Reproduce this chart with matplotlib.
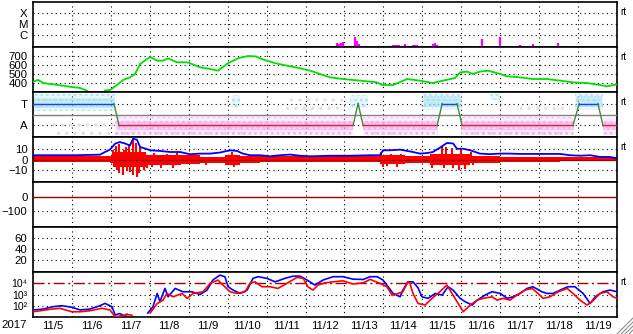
import numpy as np
import matplotlib
matplotlib.use("Agg")
import matplotlib.pyplot as plt

plt.rcParams['font.family'] = ['Liberation Sans', 'DejaVu Sans']
plt.rcParams['hatch.linewidth'] = 1.2

# ---------------- data (time in days since 2017-11-05 00:00 UT) ----------------
day_labels = ['11/5', '11/6', '11/7', '11/8', '11/9', '11/10', '11/11', '11/12',
              '11/13', '11/14', '11/15', '11/16', '11/17', '11/18', '11/19']
year_label = '2017'
flux_labels = ['10\u2074', '10\u00b3', '10\u00b2']

# X-ray flux events (W/m^2)
xray_t = [7.81, 7.86, 7.91, 7.96, 8.26, 8.32, 8.37, 8.68, 8.81, 9.25, 9.30, 9.35,
          9.40, 9.56, 9.76, 9.81, 9.86, 10.27, 10.33, 10.38, 11.30, 11.53, 11.79,
          12.00, 12.51, 12.84, 13.25, 13.49, 13.77]
xray_flux = [1.8e-7, 1.5e-7, 1.8e-7, 2.5e-7, 6.6e-7, 3.1e-7, 1.5e-7, 1.0e-7, 1.0e-7,
             1.2e-7, 1.2e-7, 1.2e-7, 1.2e-7, 1.5e-7, 1.2e-7, 1.2e-7, 1.2e-7, 1.5e-7,
             1.8e-7, 1.2e-7, 1.0e-7, 3.9e-7, 1.0e-7, 6.6e-7, 1.2e-7, 1.5e-7, 1.0e-7,
             1.8e-7, 1.0e-7]

# Solar wind speed (km/s)
vsw_t = [0, 0.13, 0.26, 0.64, 1.00, 1.21, 1.39, 1.40, 1.84, 1.85, 1.98, 2.16, 2.31,
         2.49, 2.62, 2.75, 2.93, 3.01, 3.19, 3.34, 3.47, 3.70, 3.96, 4.08, 4.29,
         4.55, 4.75, 5.01, 5.27, 5.52, 5.73, 5.88, 6.22, 6.55, 6.86, 7.12, 7.37,
         7.63, 7.96, 8.40, 8.84, 8.96, 9.25, 9.61, 9.94, 10.27, 10.53, 10.84, 10.97,
         11.15, 11.30, 11.48, 11.69, 12.00, 12.18, 12.51, 12.84, 13.20, 13.54,
         13.87, 14.23, 14.56, 14.74, 15.00]
vsw = [412, 435, 400, 378, 355, 345, 314, np.nan, np.nan, 318, 322, 378, 433,
       463, 500, 611, 667, 689, 648, 648, 674, 630, 630, 611, 574,
       556, 537, 620, 675, 700, 695, 665, 620, 590, 563, 537, 500,
       463, 444, 426, 407, 378, 378, 444, 426, 400, 426, 455, 518,
       526, 500, 526, 537, 500, 474, 463, 444, 444, 426,
       407, 400, 378, 363, 385]

# IMF sector (T = +1, A = -1)
sector_t = [0, 2.08, 2.21, 8.22, 8.35, 8.48, 10.38, 10.51, 10.89, 11.02,
            13.87, 14.03, 14.51, 14.64, 15.0]
sector = [1, 1, -1, -1, 1, -1, -1, 1, 1, -1, -1, 1, 1, -1, -1]

# scattered sector-angle points: (start, end, low, high)
toward_core = [(0.0, 2.10, 0.6, 1.5), (10.05, 11.0, 0.7, 1.7), (13.95, 14.62, 0.7, 1.7)]
toward_pts = [(0.0, 2.10, 0.3, 1.85), (5.11, 5.32, 0.6, 1.8), (8.14, 8.61, 0.6, 1.8),
              (10.02, 11.02, 0.4, 1.9), (11.74, 12.00, 1.3, 1.9), (13.92, 14.64, 0.4, 1.9)]
away_core = [(2.15, 8.22, -1.4, -0.6), (8.48, 10.40, -1.4, -0.6),
             (11.0, 13.90, -1.4, -0.6), (14.64, 15.0, -1.4, -0.7)]
away_pts = [(2.10, 8.22, -1.9, -0.25), (8.48, 10.40, -1.9, -0.25),
            (11.0, 13.90, -1.9, -0.25), (14.64, 15.0, -1.9, -0.3)]
other_pts = [(0.5, 2.6, -2.0, -0.5), (3.0, 5.5, -2.0, -0.6), (6.5, 8.0, 0.3, 1.9),
             (8.7, 9.6, -2.0, -1.0), (11.3, 13.6, -2.0, -1.0), (12.5, 13.8, 0.2, 1.2)]

# IMF |B| (nT)
bt_t = [0, 1.08, 1.72, 1.85, 1.98, 2.11, 2.23, 2.36, 2.49, 2.57, 2.67, 2.75, 2.88,
        3.01, 3.26, 3.52, 3.78, 4.03, 4.29, 4.55, 4.80, 5.06, 5.24, 5.39, 5.57,
        5.83, 6.09, 6.34, 6.60, 6.86, 7.12, 7.63, 8.14, 8.66, 8.91, 8.99, 9.17,
        9.43, 9.61, 9.76, 9.94, 10.12, 10.27, 10.45, 10.63, 10.79, 10.89, 11.05,
        11.23, 11.48, 11.74, 12.00, 12.25, 12.51, 13.54, 13.79, 14.05, 14.31,
        14.56, 14.82, 15.00]
bt = [4, 4, 4.5, 7, 9.3, 14.8, 16.3, 15, 13, 19.4, 18.5, 11.7, 10.2,
      8.6, 8, 7, 7, 4.9, 5.5, 5.5, 6.5, 8.6, 8, 5.5, 4,
      4, 3, 4, 4.6, 3.5, 3, 3.5, 3.5, 4, 4, 8.6, 8.6,
      9.2, 8, 7, 5.5, 6, 7, 11, 15.4, 15, 10, 10,
      8.6, 5.5, 5, 5.5, 5.5, 5.2, 5.2, 4, 3.5, 4,
      2.4, 2.4, 1]

# IMF Bz: dense core range (nT) within intervals
bz_edges = [0, 1.98, 2.05, 2.90, 3.80, 4.29, 4.93, 5.32, 5.83, 8.91, 9.56, 10.20,
            11.23, 12.00, 13.54, 15.00]
bz_hi = [3.5, 3, 7, 4, 4, 2, 4, 3, 3, 4, 3, 5, 3, 2.5, 2.5]
bz_lo = [-2, -3, -7, -5, -4, -3, -5, -3, -2, -4, -3, -5, -3.5, -2.5, -1.5]
# IMF Bz: individual excursions (time, nT)
bz_spike_t = [2.06, 2.08, 2.13, 2.15, 2.20, 2.22, 2.30, 2.33, 2.38, 2.41, 2.47, 2.50,
              2.56, 2.58, 2.64, 2.66, 2.72, 2.74, 2.82, 2.84, 2.92, 3.05, 3.10, 3.30,
              3.45, 3.60, 3.70, 4.45, 5.10, 5.15, 8.95, 9.00, 9.10, 9.20, 9.35, 9.45,
              10.25, 10.35, 10.50, 10.55, 10.60, 10.75, 10.80, 10.95, 11.00, 11.10,
              11.25, 11.30]
bz_spike = [8.6, -6.8, 13, -10, 14.8, -13, -14.5, 9, 11.7, -11, 14.8, -11.5,
            17.9, -14.5, 15, -16, -13, 12, 7, -10, -8, -7, 6, -8,
            5.5, -8, 7, -5.3, 7, -7, 7, -7, -6, 5, -7, 5.5,
            -8.3, 5.5, 13, -8, 12, 11, -8, -10, 10, -9,
            7, -5]

# >2 MeV electron flux (log10), two satellites
eb_t = [0, 0.26, 0.51, 0.74, 1.00, 1.21, 1.46, 1.72, 1.85, 2.03, 2.11, 2.23, 2.34,
        2.41, 2.49, 2.94, 2.95, 3.08, 3.19, 3.26, 3.39, 3.47, 3.65, 3.85, 4.08,
        4.29, 4.47, 4.62, 4.80, 4.93, 5.01, 5.14, 5.32, 5.50, 5.65, 5.78, 6.01,
        6.22, 6.47, 6.68, 6.86, 7.04, 7.24, 7.45, 7.71, 7.96, 8.22, 8.48, 8.66,
        8.84, 8.99, 9.12, 9.25, 9.43, 9.50, 9.63, 9.76, 9.89, 9.99, 10.15, 10.33,
        10.51, 10.66, 10.79, 10.97, 11.10, 11.28, 11.41, 11.61, 11.79, 12.00,
        12.18, 12.33, 12.51, 12.69, 12.84, 13.07, 13.20, 13.36, 13.54, 13.74,
        13.92, 14.13, 14.31, 14.44, 14.64, 14.82, 15.00]
eb_log = [1.62, 1.70, 1.91, 2.0, 1.86, 1.62, 1.70, 2.0, 2.21, 1.91, 1.17, 1.3, 1.1,
          1.25, np.nan, np.nan, 1.35, 1.9, 3.1, 2.36, 3.55, 2.8, 3.55, 3.25, 3.25,
          3.0, 3.4, 4.3, 4.74, 4.6, 3.7, 3.4, 3.1, 3.4, 4.45, 4.6, 4.45,
          4.14, 4.45, 4.65, 4.65, 4.3, 3.85, 4.3, 4.6, 4.6, 4.38, 4.35, 4.6,
          4.6, 4.3, 3.7, 3.1, 2.8, 3.4, 4.14, 4.14, 3.6, 2.8, 2.66, 3.1,
          2.95, 3.7, 3.4, 2.66, 2.36, 2.06, 2.5, 2.95, 3.25, 3.1,
          2.66, 2.8, 3.1, 3.55, 3.7, 3.25, 3.1, 3.1, 3.4, 3.7,
          3.7, 3.1, 2.2, 2.8, 3.25, 3.4, 3.25]
er_t = [0, 0.44, 0.69, 1.00, 1.21, 1.46, 1.77, 1.98, 2.11, 2.44, 2.54, 2.55, 3.00,
        3.01, 3.19, 3.34, 3.44, 3.60, 3.83, 3.96, 4.11, 4.37, 4.55, 4.75, 4.88,
        5.06, 5.24, 5.45, 5.57, 5.70, 5.88, 6.09, 6.29, 6.52, 6.78, 6.94, 7.06,
        7.19, 7.32, 7.50, 7.71, 7.96, 8.22, 8.48, 8.66, 8.91, 9.09, 9.22, 9.38,
        9.50, 9.63, 9.68, 9.76, 9.89, 10.07, 10.25, 10.45, 10.63, 10.71, 10.84,
        10.97, 11.05, 11.23, 11.41, 11.56, 11.79, 11.92, 12.07, 12.25, 12.43,
        12.64, 12.82, 12.97, 13.10, 13.28, 13.49, 13.72, 13.87, 14.05, 14.23,
        14.36, 14.56, 14.74, 14.90, 15.00]
er_log = [1.46, 1.68, 1.77, 1.46, 1.46, 1.55, 1.77, 1.62, 1.0, 1.2, 1.15, np.nan,
          np.nan, 1.35, 2.2, 2.5, 3.1, 2.8, 3.1, 2.66, 3.1, 3.25, 4.0, 4.3, 3.85,
          3.25, 3.1, 3.25, 4.0, 4.14, 3.7, 3.7, 3.55, 4.0, 4.54, 4.45, 3.7,
          3.4, 3.85, 4.05, 4.14, 4.23, 3.94, 4.05, 4.36, 4.0, 3.7, 2.95, 3.1,
          3.25, 4.14, 4.0, 3.1, 2.2, 2.06, 2.66, 3.25, 3.85, 3.4, 2.66,
          1.91, 1.46, 2.06, 2.5, 2.66, 2.8, 2.5, 2.66, 2.5, 2.95,
          3.4, 3.55, 3.1, 2.66, 2.8, 3.25, 3.55, 3.1, 2.5, 2.06,
          2.36, 3.1, 3.25, 2.8, 2.66]

# ---------------- styling ----------------
W, H = 633, 334
fig = plt.figure(figsize=(W / 100, H / 100), dpi=100)
fig.patch.set_facecolor('white')
tops = [2, 47, 92, 137, 182, 227, 272, 317]
LEFT, RIGHT = 33, 617
FS = 8.2
DOT = (0, (1, 3))
DARKRED = '#a00000'


def make_ax(i):
    t, b = tops[i], tops[i + 1]
    ax = fig.add_axes([LEFT / W, 1 - b / H, (RIGHT - LEFT) / W, (b - t) / H])
    ax.set_xlim(0, 15)
    for s in ax.spines.values():
        s.set_linewidth(1.2)
        s.set_color('black')
    ax.tick_params(axis='both', length=0, labelsize=FS, pad=4)
    ax.set_xticks([])
    for d in range(1, 15):
        ax.axvline(d, color='black', lw=0.8, ls=DOT, zorder=1)
    return ax


def hgrid(ax, levels):
    for v in levels:
        ax.axhline(v, color='black', lw=0.8, ls=DOT, zorder=1)


def rt(ax_i):
    fig.text(620 / W, 1 - (tops[ax_i] + 10) / H, 'rt', fontsize=7, ha='left',
             va='center')


def band(ax, segs, color, hatch, fill_alpha):
    for s, e, lo, hi in segs:
        if fill_alpha > 0:
            ax.fill_between([s, e], [lo, lo], [hi, hi], facecolor=color,
                            alpha=fill_alpha, lw=0, zorder=2)
        ax.fill_between([s, e], [lo, lo], [hi, hi], facecolor='none', edgecolor=color,
                        hatch=hatch, lw=0, zorder=2)


# Panel 1: X-ray
ax1 = make_ax(0)
ax1.set_yscale('log')
ax1.set_ylim(10 ** -7.1, 10 ** -2.96)
ax1.set_yticks([1e-4, 1e-5, 1e-6])
ax1.set_yticklabels(['X', 'M', 'C'])
ax1.minorticks_off()
hgrid(ax1, [1e-4, 1e-5, 1e-6])
ax1.vlines(xray_t, 10 ** -7.1, xray_flux, color='#ff00ff', lw=1.6, zorder=3)
rt(0)

# Panel 2: speed
ax2 = make_ax(1)
ax2.set_ylim(300, 800)
ax2.set_yticks([400, 500, 600, 700])
hgrid(ax2, [400, 500, 600, 700])
ax2.plot(vsw_t, vsw, color='#00e000', lw=1.3, zorder=3)
rt(1)

# Panel 3: sector
ax3 = make_ax(2)
ax3.set_ylim(-2.05, 2.05)
ax3.set_yticks([1, -1])
ax3.set_yticklabels(['T', 'A'])
hgrid(ax3, [1, -1])
band(ax3, other_pts, '#e2e2e2', '..', 0)
band(ax3, toward_pts, '#a8e2f4', '...', 0.25)
band(ax3, toward_core, '#a8e2f4', '.....', 0.35)
band(ax3, away_pts, '#f4b0f4', '...', 0.25)
band(ax3, away_core, '#f4b0f4', '.....', 0.35)
ax3.axhline(0, color='#808080', lw=1.0, zorder=3)
for k in range(len(sector_t) - 1):
    a, b = sector[k], sector[k + 1]
    col = '#2040e0' if (a == b == 1) else ('#e02020' if a == b == -1 else '#408a40')
    ax3.plot(sector_t[k:k + 2], sector[k:k + 2], color=col, lw=1.0, zorder=4)
rt(2)

# Panel 4: IMF
ax4 = make_ax(3)
ax4.set_ylim(-21, 21)
ax4.set_yticks([10, 0, -10])
hgrid(ax4, [10, -10])
ax4.stairs(bz_hi, bz_edges, baseline=bz_lo, fill=True, color='#ff0000', zorder=2)
ax4.vlines(bz_spike_t, 0, bz_spike, color='#ff0000', lw=1.5, zorder=2)
ax4.axhline(0, color=DARKRED, lw=0.9, zorder=3)
ax4.plot(bt_t, bt, color='#0000ff', lw=1.3, zorder=4)
rt(3)

# Panel 5
ax5 = make_ax(4)
ax5.set_ylim(-210, 104)
ax5.set_yticks([0, -100])
hgrid(ax5, [-100])
ax5.axhline(0, color=DARKRED, lw=1.0, zorder=3)

# Panel 6
ax6 = make_ax(5)
ax6.set_ylim(-1.5, 81)
ax6.set_yticks([60, 40, 20])
hgrid(ax6, [60, 40, 20])

# Panel 7: electrons
ax7 = make_ax(6)
ax7.set_yscale('log')
ax7.set_ylim(10 ** 0.99, 10 ** 5.02)
ax7.set_yticks([1e4, 1e3, 1e2])
ax7.set_yticklabels(flux_labels, fontsize=7.6)
ax7.minorticks_off()
hgrid(ax7, [1e3, 1e2])
ax7.axhline(1e4, color=DARKRED, lw=1.0, ls=(0, (8, 2.5, 1.5, 2.5)), zorder=2)
ax7.plot(eb_t, 10 ** np.array(eb_log), color='#0000ff', lw=1.2, zorder=3)
ax7.plot(er_t, 10 ** np.array(er_log), color='#ff0000', lw=1.2, zorder=4)
ax7.set_xticks(np.arange(15) + 0.5)
ax7.set_xticklabels(day_labels, fontsize=FS)
ax7.tick_params(axis='x', length=0, pad=3)
rt(6)
fig.text(1 / W, 1 - 325 / H, year_label, fontsize=FS, ha='left', va='center')

# window resize grip (screenshot decoration)
for k in (4, 8, 12, 16):
    fig.add_artist(plt.Line2D([(W - k) / W, 1], [0, k / H], color='#909090', lw=0.8))

fig.savefig('out.png', dpi=100)
